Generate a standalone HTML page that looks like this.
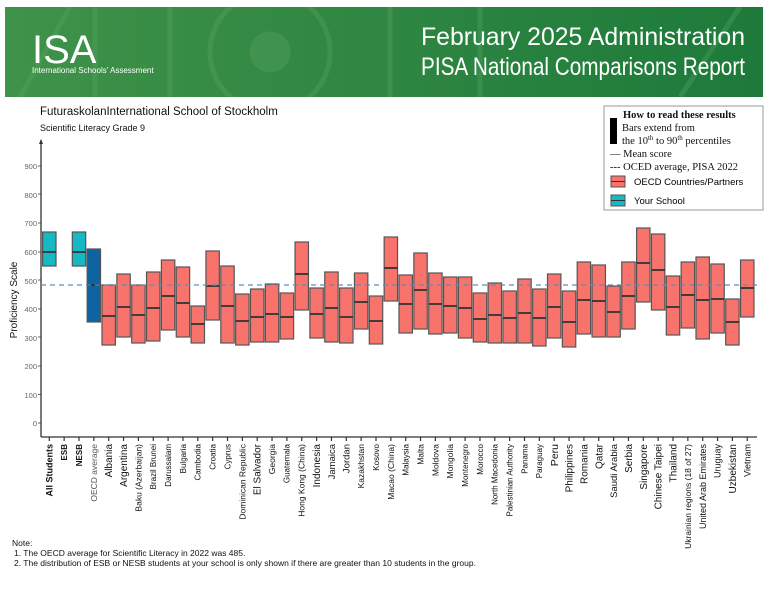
<!DOCTYPE html>
<html><head><meta charset="utf-8"><style>
body{margin:0;background:#fff;width:768px;height:593px;overflow:hidden;font-family:"Liberation Sans",sans-serif}
</style></head><body>
<svg width="768" height="593" xmlns="http://www.w3.org/2000/svg" font-family="Liberation Sans, sans-serif">
<defs><linearGradient id="g" x1="0" x2="1"><stop offset="0" stop-color="#3f9249"/><stop offset="1" stop-color="#1d7a3a"/></linearGradient>
<clipPath id="hc"><rect x="5" y="7" width="758" height="90"/></clipPath></defs>
<rect x="5" y="7" width="758" height="90" fill="url(#g)"/>
<g fill="none" stroke="#5aa662" stroke-width="5" opacity="0.35" clip-path="url(#hc)">
<ellipse cx="270" cy="52" rx="60" ry="60"/><circle cx="270" cy="52" r="18" fill="#5aa662"/>
<line x1="95" y1="7" x2="95" y2="97"/><line x1="170" y1="7" x2="170" y2="97"/><line x1="390" y1="7" x2="390" y2="97"/><line x1="480" y1="7" x2="480" y2="97"/>
<line x1="20" y1="97" x2="70" y2="7"/><line x1="680" y1="97" x2="740" y2="7"/>
</g>
<text x="32" y="63" fill="#fff" font-size="40" font-weight="300">ISA</text>
<text x="32" y="73" fill="#fff" font-size="8">International Schools' Assessment</text>
<text x="421" y="45" fill="#fff" font-size="25" textLength="324" lengthAdjust="spacingAndGlyphs">February 2025 Administration</text>
<text x="421" y="75" fill="#fff" font-size="25" textLength="324" lengthAdjust="spacingAndGlyphs">PISA National Comparisons Report</text>
<text x="40" y="115" font-size="11.5" fill="#111">FuturaskolanInternational School of Stockholm</text>
<text x="40" y="131" font-size="9" fill="#111">Scientific Literacy Grade 9</text>
<rect x="604" y="106" width="159" height="104" fill="#fff" stroke="#999"/>
<g font-family="Liberation Serif, serif" font-size="10.5" fill="#111">
<text x="623" y="118" font-weight="bold">How to read these results</text>
<text x="622" y="131">Bars extend from</text>
<text x="622" y="144">the 10<tspan font-size="7" dy="-4">th</tspan><tspan dy="4"> to 90</tspan><tspan font-size="7" dy="-4">th</tspan><tspan dy="4"> percentiles</tspan></text>
<text x="610" y="157">—  Mean score</text>
<text x="610" y="170">---  OCED average, PISA 2022</text>
</g>
<rect x="610" y="118" width="7" height="26" fill="#000"/>
<rect x="611" y="176" width="14" height="11" fill="#f8736c" stroke="#555"/><line x1="611" y1="181.5" x2="625" y2="181.5" stroke="#333"/>
<rect x="611" y="195" width="14" height="11" fill="#16b8c4" stroke="#555"/><line x1="611" y1="200.5" x2="625" y2="200.5" stroke="#333"/>
<text x="634" y="185" font-size="9.5">OECD Countries/Partners</text>
<text x="634" y="204" font-size="9.5">Your School</text>
<text transform="translate(17,300) rotate(-90)" font-size="10" text-anchor="middle" fill="#111">Proficiency Scale</text>
<g font-size="7.5" fill="#666" text-anchor="end">
<text x="37" y="426">0</text><text x="37" y="398">100</text><text x="37" y="369">200</text><text x="37" y="341">300</text><text x="37" y="312">400</text><text x="37" y="284">500</text><text x="37" y="255">600</text><text x="37" y="226">700</text><text x="37" y="198">800</text><text x="37" y="169">900</text>
</g>
<g stroke="#666"><line x1="38" y1="423" x2="41" y2="423"/><line x1="38" y1="394.5" x2="41" y2="394.5"/><line x1="38" y1="366" x2="41" y2="366"/><line x1="38" y1="337" x2="41" y2="337"/><line x1="38" y1="309" x2="41" y2="309"/><line x1="38" y1="280" x2="41" y2="280"/><line x1="38" y1="252" x2="41" y2="252"/><line x1="38" y1="223" x2="41" y2="223"/><line x1="38" y1="194" x2="41" y2="194"/><line x1="38" y1="166" x2="41" y2="166"/></g>
<line x1="41" y1="140" x2="41" y2="437" stroke="#333" stroke-width="1.3"/>
<path d="M39 144 L41 139 L43 144Z" fill="#333"/>
<line x1="41" y1="437" x2="757" y2="437" stroke="#333" stroke-width="1.3"/>
<g id="bars" stroke="#555" stroke-width="1.2"></g>
<line x1="41" y1="285" x2="757" y2="285" stroke="#5b8dbb" stroke-width="1.2" stroke-dasharray="5,4"/>
<g id="labels"></g>
<text x="12" y="546" font-size="8.5" fill="#111">Note:</text>
<text x="14" y="556" font-size="8.5" fill="#111">1. The OECD average for Scientific Literacy in 2022 was 485.</text>
<text x="14" y="566" font-size="8.5" fill="#111">2. The distribution of ESB or NESB students at your school is only shown if there are greater than 10 students in the group.</text>
</svg>
<script>
var d=[["All Students",232,266,252,"s",1,9],["ESB",0,0,0,"n",1,8],["NESB",232,266,252,"s",1,8],["OECD average",249,322,285,"o",0,8.5],
["Albania",285,345,316,"c",0,10],["Argentina",274,337,307,"c",0,10],["Baku (Azerbaijan)",285,343,315,"c",0,8.5],["Brazil Brunei",272,341,308,"c",0,8],["Darussalam",260,330,296,"c",0,8],["Bulgaria",267,337,303,"c",0,8],["Cambodia",306,343,324,"c",0,8],["Croatia",251,320,286,"c",0,8],["Cyprus",266,343,306,"c",0,8],["Dominican Republic",294,345,321,"c",0,8.5],["El Salvador",289,342,317,"c",0,10],["Georgia",284,342,314,"c",0,8.5],["Guatemala",293,339,317,"c",0,8],["Hong Kong (China)",242,310,274,"c",0,8.5],["Indonesia",288,338,314,"c",0,10],["Jamaica",272,342,308,"c",0,9.5],["Jordan",288,343,317,"c",0,9.5],["Kazakhstan",273,329,302,"c",0,8.5],["Kosovo",296,344,321,"c",0,8],["Macao (China)",237,301,268,"c",0,8.5],["Malaysia",275,333,304,"c",0,8],["Malta",253,329,290,"c",0,8.5],["Moldova",273,334,304,"c",0,8.5],["Mongolia",277,333,306,"c",0,8.5],["Montenegro",277,338,308,"c",0,8],["Morocco",293,342,319,"c",0,8],["North Macedonia",283,343,315,"c",0,8],["Palestinian Authority",291,343,318,"c",0,8],["Panama",279,343,313,"c",0,8],["Paraguay",289,346,318,"c",0,8],["Peru",274,338,307,"c",0,10.5],["Philippines",291,347,322,"c",0,10],["Romania",262,334,300,"c",0,10],["Qatar",265,337,301,"c",0,10],["Saudi Arabia",286,337,312,"c",0,9.5],["Serbia",262,329,296,"c",0,10],["Singapore",228,302,263,"c",0,10],["Chinese Taipei",234,310,270,"c",0,10],["Thailand",276,335,307,"c",0,10],["Ukrainian regions (18 of 27)",262,328,295,"c",0,8.5],["United Arab Emirates",257,339,300,"c",0,9],["Uruguay",264,333,299,"c",0,9],["Uzbekistan",299,345,322,"c",0,10],["Vietnam",260,317,288,"c",0,9]];
var ns="http://www.w3.org/2000/svg",B=document.getElementById("bars"),L=document.getElementById("labels");
function el(t,a,p){var e=document.createElementNS(ns,t);for(var k in a)e.setAttribute(k,a[k]);p.appendChild(e);return e}
d.forEach(function(r,i){var cx=49.3+14.85*i;
el("line",{x1:cx,y1:437,x2:cx,y2:441,stroke:"#333"},B);
if(r[4]!="n"){var f=r[4]=="s"?"#16b8c4":r[4]=="o"?"#0e64a0":"#f8736c";
el("rect",{x:cx-6.7,y:r[1],width:13.4,height:r[2]-r[1],fill:f},B);
el("line",{x1:cx-6.7,y1:r[3],x2:cx+6.7,y2:r[3],stroke:"#333","stroke-width":1.8},B);}
var t=el("text",{transform:"translate("+(cx+r[6]*0.35)+",444) rotate(-90)","font-size":r[6],"text-anchor":"end",fill:r[4]=="o"?"#555":"#111","font-weight":r[5]?"bold":"normal"},L);t.textContent=r[0];});
</script>
</body></html>
